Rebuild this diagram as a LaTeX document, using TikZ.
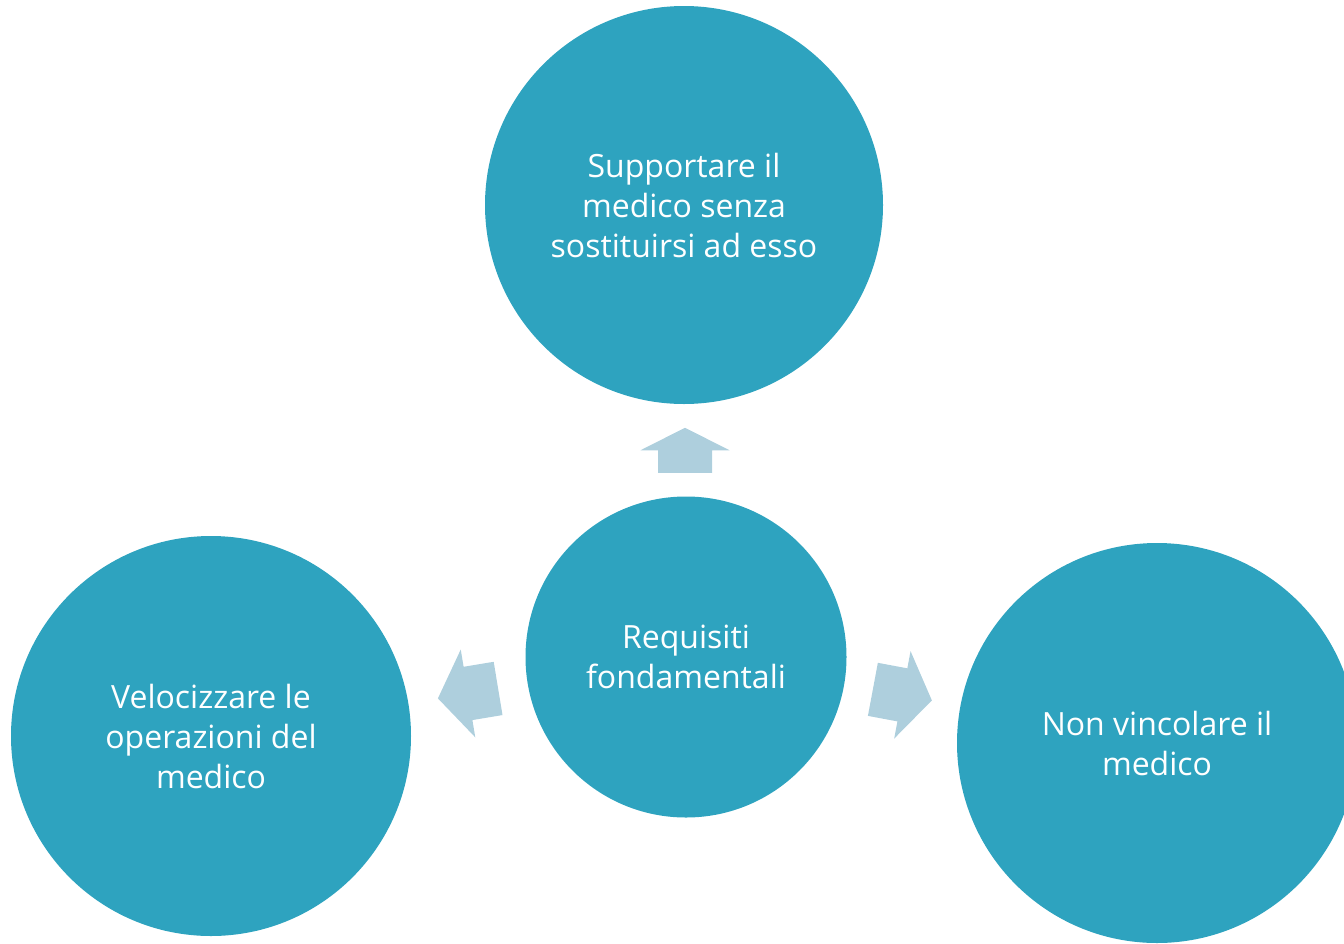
\documentclass[tikz,border=0pt]{standalone}
\usepackage{fontspec}
\setmainfont{Open Sans}[Ligatures=NoCommon]
\usetikzlibrary{calc}

\definecolor{bubblecol}{HTML}{2EA3BF}
\definecolor{arrowcol}{HTML}{AECFDD}

\def\scale{1pt}
\def\blist{{(684,-205)/supp/398/Supportare il\\medico senza\\sostituirsi ad esso}, {(211,-736)/velo/400/Velocizzare le\\operazioni del\\medico}, {(1157,-743)/nonv/400/Non vincolare il\\medico}}
\tikzstyle{bubble}=[circle, fill=bubblecol, text=white, align=center, inner sep=0pt, font=\fontsize{32}{40}\selectfont]
\tikzstyle{fat-arrow}=[fill=arrowcol, draw=none]

\begin{document}
\begin{tikzpicture}[x=\scale, y=\scale]
  \path[use as bounding box, clip] (0,0) rectangle (1344,-943);

  \node[bubble, minimum size=321] (req) at (686,-657) {Requisiti\\fondamentali};
  \foreach \pos/\name/\size/\txt in \blist {
    \node[bubble, minimum size=\size] (\name) at \pos {\txt};
  }

  \foreach \name/\ang/\back/\hlen in {supp/90/270/22.5, velo/189.4/9.4/30.5, nonv/-10.6/169.4/30} {
    \coordinate (a-\name) at ($(req.\ang)!0.5!(\name.\back)$);
    \begin{scope}[shift={(a-\name)}, rotate=\ang]
      \path[fat-arrow] (-\hlen,-27) -- (0,-27) -- (0,-44.5) -- (\hlen,0) -- (0,44.5) -- (0,27) -- (-\hlen,27) -- cycle;
    \end{scope}
  }
\end{tikzpicture}
\end{document}
